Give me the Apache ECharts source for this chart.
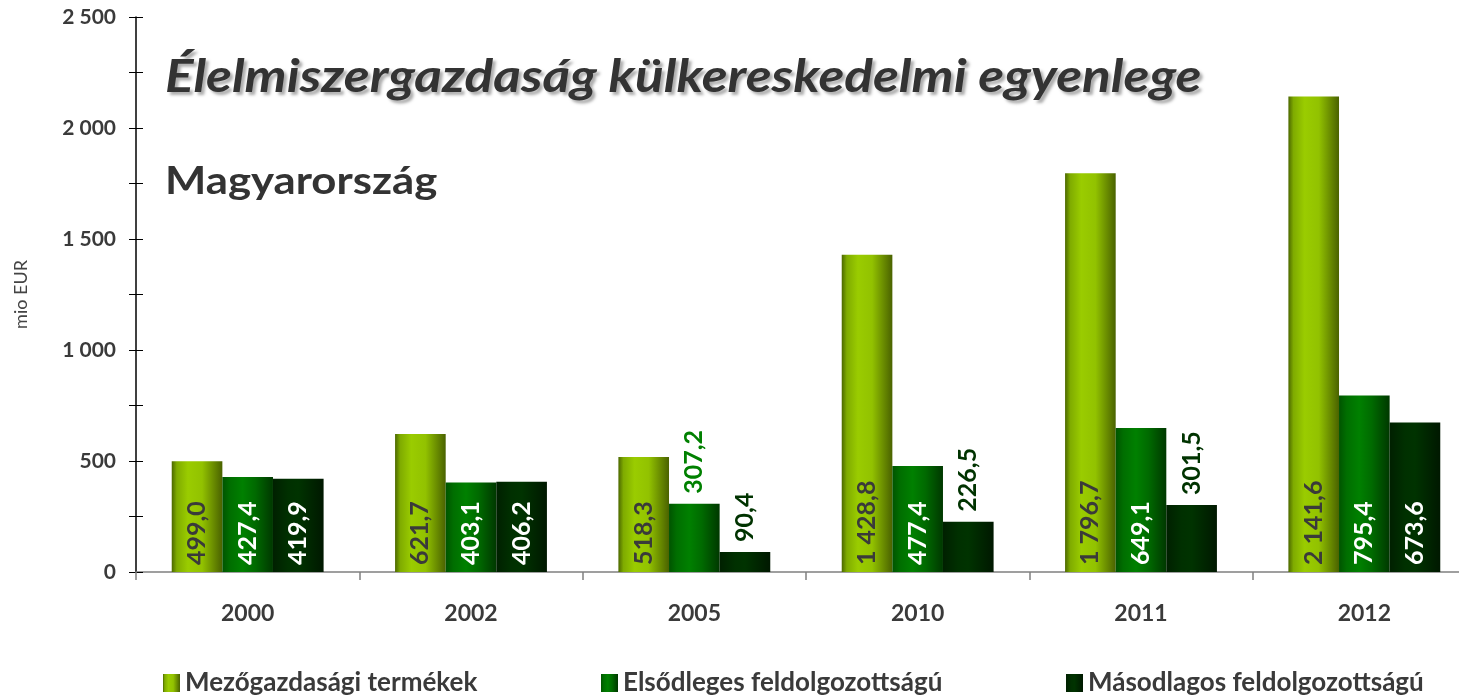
<!DOCTYPE html>
<html>
<head>
<meta charset="utf-8">
<script src="https://cdn.jsdelivr.net/npm/echarts@6/dist/echarts.min.js"></script>
<style>
html,body{margin:0;padding:0;background:#fff;}
#c{width:1459px;height:696px;}
</style>
</head>
<body>
<div id="c"></div>
<script>
const categories = ['2000', '2002', '2005', '2010', '2011', '2012'];
const seriesNames = ['Mezőgazdasági termékek', 'Elsődleges feldolgozottságú', 'Másodlagos feldolgozottságú'];
const agri = [499.0, 621.7, 518.3, 1428.8, 1796.7, 2141.6];
const primary = [427.4, 403.1, 307.2, 477.4, 649.1, 795.4];
const secondary = [419.9, 406.2, 90.4, 226.5, 301.5, 673.6];
const yTicks = [0, 500, 1000, 1500, 2000, 2500];
const titleText = 'Élelmiszergazdaság külkereskedelmi egyenlege';
const subtitleText = 'Magyarország';
const yAxisName = 'mio EUR';

const FONT = 'Lato';
const chart = echarts.init(document.getElementById('c'), null, {renderer: 'canvas'});

function thousands(s) { return s.replace(/\B(?=(\d{3})+(?!\d))/g, ' '); }
function fmt(v) {
  const s = v.toFixed(1).split('.');
  return thousands(s[0]) + ',' + s[1];
}
function grad(stops) {
  return new echarts.graphic.LinearGradient(0, 0, 1, 0, stops.map(s => ({offset: s[0], color: s[1]})));
}
const fills = [
  grad([[0, '#4c6800'], [0.1, '#7fab00'], [0.32, '#9acc00'], [0.6, '#92c200'], [1, '#4a6200']]),
  grad([[0, '#005400'], [0.15, '#006e00'], [0.4, '#008000'], [0.65, '#006a00'], [1, '#003800']]),
  grad([[0, '#002000'], [0.3, '#003000'], [0.5, '#003300'], [1, '#001800']])
];
const insideColors = ['#3a3a3a', '#ffffff', '#ffffff'];
const outsideColors = ['#5f8a00', '#008000', '#003300'];

function makeData(vals, i) {
  return vals.map(v => {
    const inside = v >= 350;
    return {
      value: v,
      label: inside ? {
        position: 'insideBottom', distance: 7, color: insideColors[i]
      } : {
        position: 'top', distance: 10, color: outsideColors[i]
      }
    };
  });
}

const allVals = [agri, primary, secondary];
const series = allVals.map((vals, i) => ({
  name: seriesNames[i],
  type: 'bar',
  barGap: '0%',
  barCategoryGap: '32%',
  itemStyle: {color: fills[i]},
  label: {
    show: true, rotate: 90, align: 'left', verticalAlign: 'middle',
    fontFamily: FONT, fontWeight: 'bold', fontSize: 25,
    formatter: p => fmt(p.value)
  },
  data: makeData(vals, i)
}));

const axisLabelStyle = {fontFamily: FONT, fontWeight: 'bold', fontSize: 23, color: '#3a3a3a'};
const legendLefts = [163, 601, 1066];

chart.setOption({
  animation: false,
  graphic: [
    {
      type: 'text', x: 165, y: 54, scaleX: 1.155, scaleY: 1, z: 10,
      style: {
        text: titleText, x: 0, y: 0, verticalAlign: 'top', align: 'left',
        font: 'italic bold 46px Lato', fill: '#333333',
        textShadowColor: 'rgba(0,0,0,0.32)', textShadowBlur: 3, textShadowOffsetX: 3, textShadowOffsetY: 3
      }
    },
    {
      type: 'text', x: 165, y: 163, scaleX: 1.15, scaleY: 1, z: 10,
      style: {
        text: subtitleText, x: 0, y: 0, verticalAlign: 'top', align: 'left',
        font: 'bold 38px Lato', fill: '#333333'
      }
    }
  ],
  legend: seriesNames.map((n, i) => ({
    data: [n], left: legendLefts[i], top: 670, padding: 0,
    icon: 'rect', itemWidth: 17, itemHeight: 18, itemGap: 10,
    textStyle: {fontFamily: FONT, fontWeight: 'bold', fontSize: 26, lineHeight: 26, color: '#3a3a3a'}
  })),
  grid: {left: 136, width: 1340, top: 17, bottom: 124, containLabel: false, outerBoundsMode: 'none'},
  xAxis: {
    type: 'category', data: categories,
    axisLine: {lineStyle: {color: '#808080', width: 1.5}},
    axisTick: {show: true, length: 8, lineStyle: {color: '#808080', width: 1.5}},
    axisLabel: Object.assign({margin: 30}, axisLabelStyle)
  },
  yAxis: [
    {
      type: 'value', min: 0, max: 2500, interval: 250,
      name: yAxisName, nameLocation: 'middle', nameGap: 106, nameRotate: 90,
      nameTextStyle: {fontFamily: FONT, fontSize: 18, color: '#444444'},
      axisLine: {show: true, lineStyle: {color: '#000000', width: 1.5}},
      axisTick: {show: true, length: 7, lineStyle: {color: '#000000'}},
      splitLine: {show: false},
      axisLabel: Object.assign({
        margin: 20, padding: [6, 0, 0, 0],
        formatter: v => (yTicks.indexOf(v) >= 0 ? thousands(String(v)) : '')
      }, axisLabelStyle, {fontSize: 21})
    },
    {
      type: 'value', min: 0, max: 2500, interval: 250, position: 'left',
      axisLine: {show: false},
      axisTick: {show: true, inside: true, length: 7, lineStyle: {color: '#000000'}},
      splitLine: {show: false},
      axisLabel: {show: false}
    }
  ],
  series: series
});
</script>
</body>
</html>
